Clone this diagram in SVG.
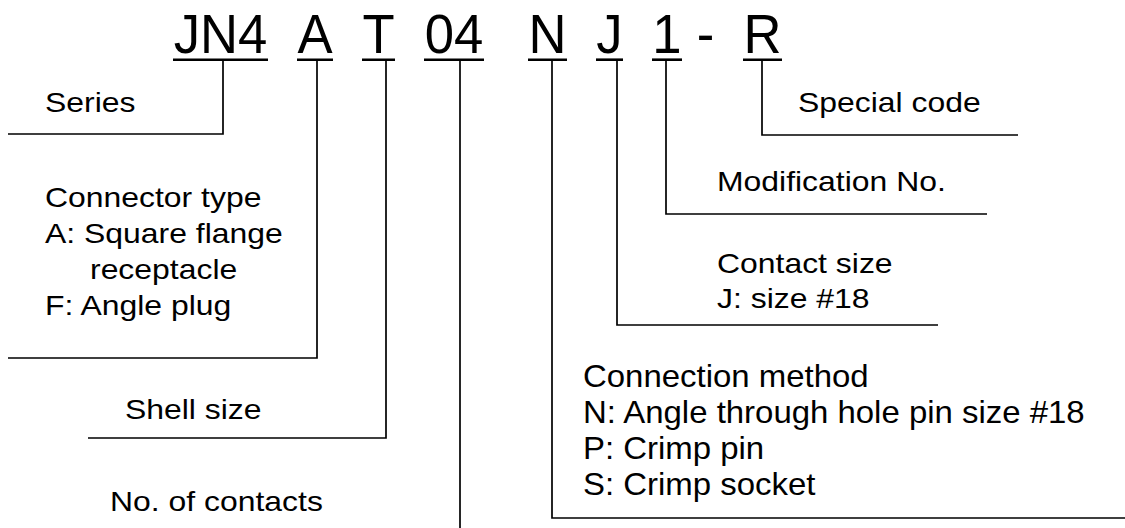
<svg xmlns="http://www.w3.org/2000/svg" width="1125" height="528" viewBox="0 0 1125 528">
<style>
.code{font-family:"Liberation Sans",Arial,sans-serif;font-size:56px;fill:#000;text-anchor:middle}
.lbl{font-family:"Liberation Sans",Arial,sans-serif;font-size:28.5px;fill:#000}
.big{font-size:30.5px}
.ul{stroke:#000;stroke-width:2.6;fill:none}
.conn{stroke:#000;stroke-width:1.7;fill:none}
</style>
<rect width="1125" height="528" fill="#fff"/>
<g id="code">
<text class="code" transform="translate(220.5,53) scale(0.94,1)">JN4</text>
<text class="code" transform="translate(315,53) scale(0.94,1)">A</text>
<text class="code" transform="translate(378.5,53) scale(0.94,1)">T</text>
<text class="code" transform="translate(454,53) scale(0.94,1)">04</text>
<text class="code" transform="translate(547.5,53) scale(0.94,1)">N</text>
<text class="code" transform="translate(609.5,53) scale(0.94,1)">J</text>
<text class="code" transform="translate(667,53) scale(0.94,1)">1</text>
<text class="code" transform="translate(705.5,53) scale(0.94,1)">-</text>
<text class="code" transform="translate(762.5,53) scale(0.94,1)">R</text>
<line class="ul" x1="173" y1="59.7" x2="268" y2="59.7"/>
<line class="ul" x1="297" y1="59.7" x2="333" y2="59.7"/>
<line class="ul" x1="362" y1="59.7" x2="395" y2="59.7"/>
<line class="ul" x1="424" y1="59.7" x2="484" y2="59.7"/>
<line class="ul" x1="528" y1="59.7" x2="567" y2="59.7"/>
<line class="ul" x1="596" y1="59.7" x2="623" y2="59.7"/>
<line class="ul" x1="652" y1="59.7" x2="682" y2="59.7"/>
<line class="ul" x1="743" y1="59.7" x2="782" y2="59.7"/>
</g>
<g id="connectors">
<path class="conn" d="M223 61 V134 H8"/>
<path class="conn" d="M317 61 V358 H8"/>
<path class="conn" d="M386 61 V438 H88"/>
<path class="conn" d="M460 61 V528"/>
<path class="conn" d="M552 61 V518 H1125"/>
<path class="conn" d="M617 61 V325 H938"/>
<path class="conn" d="M666 61 V214 H987"/>
<path class="conn" d="M762 61 V135 H1018"/>
</g>
<g id="series"><text class="lbl" transform="translate(45,112) scale(1.12,1)">Series</text></g>
<g id="connector-type">
<text class="lbl" transform="translate(45,207) scale(1.12,1)">Connector type</text>
<text class="lbl" transform="translate(45,243) scale(1.12,1)">A: Square flange</text>
<text class="lbl" transform="translate(90,279) scale(1.12,1)">receptacle</text>
<text class="lbl" transform="translate(45,315) scale(1.12,1)">F: Angle plug</text>
</g>
<g id="shell-size"><text class="lbl" transform="translate(125,419) scale(1.12,1)">Shell size</text></g>
<g id="contacts"><text class="lbl" transform="translate(110,511) scale(1.12,1)">No. of contacts</text></g>
<g id="connection-method">
<text class="lbl big" transform="translate(583,387) scale(1.08,1)">Connection method</text>
<text class="lbl big" transform="translate(583,423) scale(1.08,1)">N: Angle through hole pin size #18</text>
<text class="lbl big" transform="translate(583,459) scale(1.08,1)">P: Crimp pin</text>
<text class="lbl big" transform="translate(583,495) scale(1.08,1)">S: Crimp socket</text>
</g>
<g id="contact-size">
<text class="lbl" transform="translate(717,273) scale(1.12,1)">Contact size</text>
<text class="lbl" transform="translate(717,308) scale(1.12,1)">J: size #18</text>
</g>
<g id="modification"><text class="lbl" transform="translate(717,191) scale(1.12,1)">Modification No.</text></g>
<g id="special-code"><text class="lbl" transform="translate(798,112) scale(1.12,1)">Special code</text></g>
</svg>
